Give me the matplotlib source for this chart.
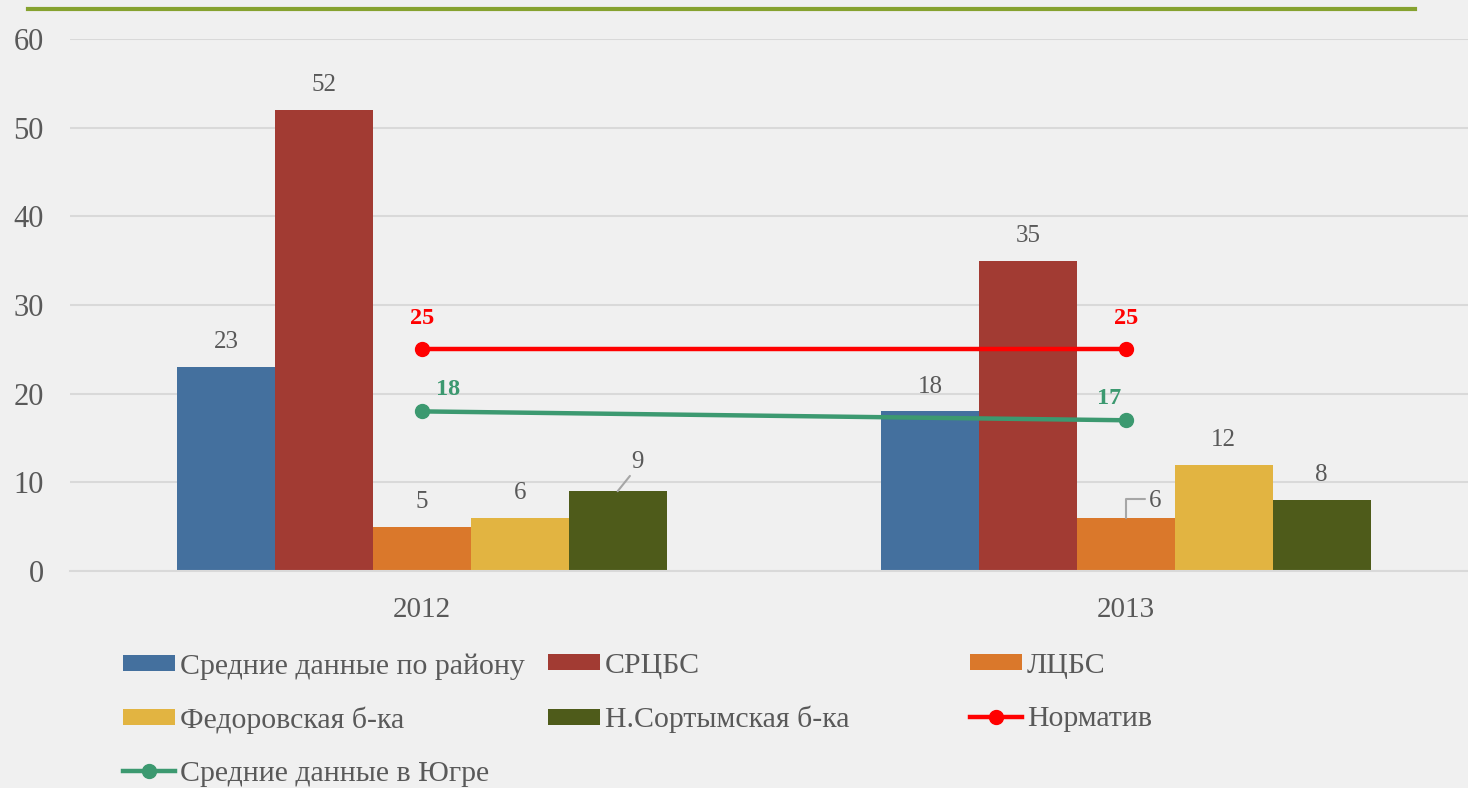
import numpy as np
import matplotlib.pyplot as plt
from matplotlib.lines import Line2D

# data
years = ['2012', '2013']
series_names = ['Средние данные по району', 'СРЦБС', 'ЛЦБС',
                'Федоровская б-ка', 'Н.Сортымская б-ка']
series_values = [
    [23, 18],
    [52, 35],
    [5, 6],
    [6, 12],
    [9, 8],
]
norm_name = 'Норматив'
norm_values = [25, 25]
ugra_name = 'Средние данные в Югре'
ugra_values = [18, 17]

bar_colors = ['#44709E', '#A23B33', '#DA782B', '#E2B441', '#4E5B1A']
grey = '#595959'
bg = '#F0F0F0'

plt.rcParams['font.family'] = ['Liberation Serif', 'DejaVu Serif']

fig = plt.figure(figsize=(14.68, 7.88), dpi=100, facecolor=bg)
ax = fig.add_axes([70/1468, 1 - 571/788, 1 - 70/1468, (571 - 39)/788])
ax.set_facecolor(bg)

x = np.arange(len(years))
w = 0.139
n = len(series_names)
bars = []
for i, (name, vals) in enumerate(zip(series_names, series_values)):
    pos = x + (i - (n - 1) / 2) * w
    b = ax.bar(pos, vals, w, color=bar_colors[i], label=name, zorder=2)
    bars.append(b)
    for j, (px, v) in enumerate(zip(pos, vals)):
        # two labels are moved aside with a leader line
        if i == 4 and j == 0:
            ax.annotate(str(v), (px, v), xytext=(14, 13), textcoords='offset points',
                        ha='center', va='bottom', fontsize=18, color=grey,
                        arrowprops=dict(arrowstyle='-', color='#A6A6A6', lw=1.5,
                                        shrinkA=0, shrinkB=0, relpos=(0.1, 0)))
        elif i == 2 and j == 1:
            ax.annotate(str(v), (px, v), xytext=(21, 4), textcoords='offset points',
                        ha='center', va='bottom', fontsize=18, color=grey,
                        arrowprops=dict(arrowstyle='-', color='#A6A6A6', lw=1.5,
                                        shrinkA=0, shrinkB=0, relpos=(-0.3, 0.6),
                                        connectionstyle='angle,angleA=0,angleB=90,rad=0'))
        else:
            ax.annotate(str(v), (px, v), xytext=(0, 10), textcoords='offset points',
                        ha='center', va='bottom', fontsize=18, color=grey)

norm_line, = ax.plot(x, norm_values, color='#FF0000', lw=3.2, marker='o',
                     markersize=10, label=norm_name, zorder=3)
ugra_line, = ax.plot(x, ugra_values, color='#3C9970', lw=3.2, marker='o',
                     markersize=10, label=ugra_name, zorder=3)
for xi, v in zip(x, norm_values):
    ax.annotate(str(v), (xi, v), xytext=(0, 15), textcoords='offset points',
                ha='center', va='bottom', fontsize=17.5, color='#FF0000', fontweight='bold')
for xi, v, dx in zip(x, ugra_values, [19, -12]):
    ax.annotate(str(v), (xi, v), xytext=(dx, 8), textcoords='offset points',
                ha='center', va='bottom', fontsize=17.5, color='#3C9970', fontweight='bold')

ax.set_ylim(0, 60)
ax.set_xlim(-0.5, 1.486)
ax.set_yticks(range(0, 61, 10))
ax.set_xticks(x)
ax.set_xticklabels(years)
ax.tick_params(axis='both', length=0, colors=grey)
ax.tick_params(axis='x', pad=19, labelsize=21)
ax.tick_params(axis='y', pad=19, labelsize=22)
ax.grid(axis='y', color='#D9D9D9', lw=1.5, zorder=0)
for s in ['top', 'right', 'left']:
    ax.spines[s].set_visible(False)
ax.spines['bottom'].set_color('#D9D9D9')
ax.spines['bottom'].set_linewidth(1.5)

# green rule at the top of the slide
fig.add_artist(Line2D([28/1468, 1415/1468], [1 - 9/788, 1 - 9/788],
                      color='#86A22F', lw=3, transform=fig.transFigure))

# legend in three columns placed by hand
handles = [b for b in bars] + [norm_line, ugra_line]
labels = series_names + [norm_name, ugra_name]
cols = [[0, 3, 6], [1, 4], [2, 5]]
col_x = [123, 548, 970]
for cx, idx in zip(col_x, cols):
    leg = fig.legend([handles[k] for k in idx], [labels[k] for k in idx],
                     loc='upper left', bbox_to_anchor=(cx/1468, 1 - 653/788),
                     frameon=False, fontsize=21.5, handlelength=1.75,
                     handleheight=0.45, handletextpad=0.16, labelspacing=0.9,
                     borderpad=0, borderaxespad=0)
    for t in leg.get_texts():
        t.set_color(grey)

fig.savefig('out.png', dpi=100, facecolor=bg)
